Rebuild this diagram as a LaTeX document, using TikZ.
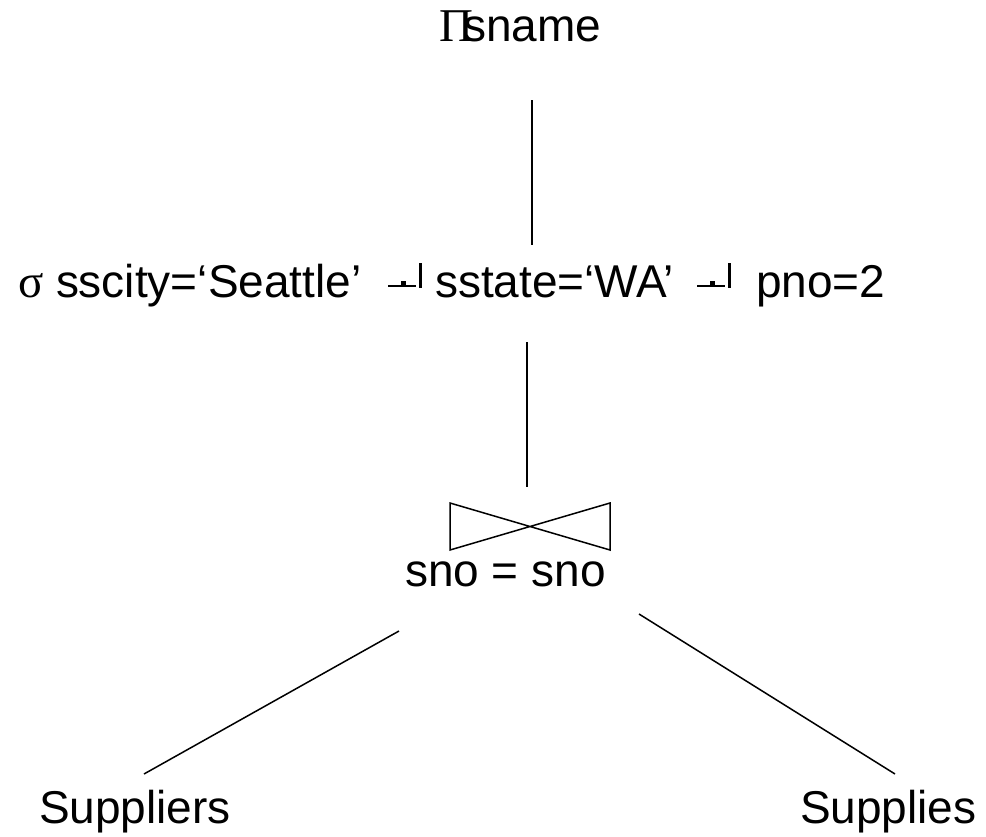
\documentclass[tikz,border=0pt]{standalone}
\usepackage{fontspec}
\setmainfont{Liberation Sans}
\newfontfamily\greekfont{Liberation Serif}
\begin{document}
\begin{tikzpicture}[x=1pt,y=-1pt,
  lbl/.style={inner sep=0pt,outer sep=0pt,anchor=base west,font=\fontsize{46}{55}\selectfont},
  sym/.style={inner sep=0pt,outer sep=0pt,anchor=base west,font=\fontsize{47}{55}\selectfont\greekfont},
  edge/.style={line width=1.5pt},
  conj/.pic={
    % broken conjunction glyph: low stroke with a small notch, then an upright bar
    \draw[line width=2.2pt] (0,-11) -- (14,-11) -- (14,-14.5) -- (16.5,-14.5) -- (16.5,-11) -- (28,-11);
    \draw[line width=3pt] (32,-9.5) -- (32,-34.5);
  }]
\useasboundingbox (0,0) rectangle (986,836);

% projection
\node[sym] (pi) at (439,41) {Π};
\node[lbl] (proj) at (463,41) {sname};

% selection
\node[sym] (sigma) at (18,297) {σ};
\node[lbl] (c1) at (56,297) {sscity=‘Seattle’};
\pic at (388,297) {conj};
\node[lbl] (c2) at (435,297) {sstate=‘WA’};
\pic at (697,297) {conj};
\node[lbl] (c3) at (756,297) {pno=2};

% join
\coordinate (bt-nw) at (450,503);
\coordinate (bt-sw) at (450,550);
\coordinate (bt-ne) at (610,503);
\coordinate (bt-se) at (610,550);
\draw[edge, line join=miter] (bt-nw) -- (bt-sw) -- (bt-ne) -- (bt-se) -- cycle;
\node[lbl] (join) at (405,586) {sno = sno};

% leaves
\node[lbl] (suppliers) at (39,823) {Suppliers};
\node[lbl] (supplies) at (800,823) {Supplies};

% connector end points
\coordinate (proj-down) at (532,100);
\coordinate (sel-up) at (532,245);
\coordinate (sel-down) at (527,342);
\coordinate (join-up) at (527,487);
\coordinate (join-left) at (399,631);
\coordinate (suppliers-up) at (144,774);
\coordinate (join-right) at (639,614);
\coordinate (supplies-up) at (895,774);

\draw[edge] (proj-down) -- (sel-up);
\draw[edge] (sel-down) -- (join-up);
\draw[edge] (join-left) -- (suppliers-up);
\draw[edge] (join-right) -- (supplies-up);
\end{tikzpicture}
\end{document}
